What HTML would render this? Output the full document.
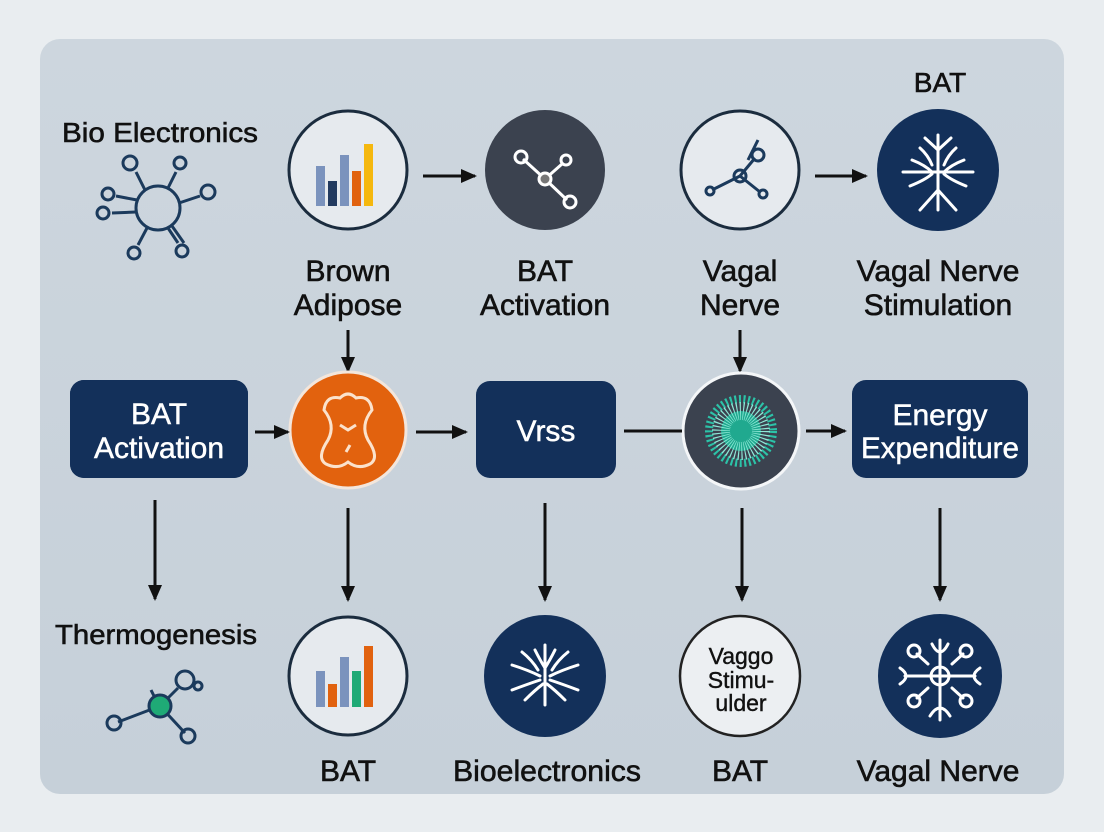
<!DOCTYPE html>
<html><head><meta charset="utf-8"><style>
html,body{margin:0;padding:0;background:#e9edf0;}
svg{display:block;}
text{font-family:"Liberation Sans",Arial,sans-serif;}
</style></head><body>
<svg width="1104" height="832" viewBox="0 0 1104 832" xmlns="http://www.w3.org/2000/svg">
<defs>
<linearGradient id="pg" x1="0" y1="0" x2="0" y2="1"><stop offset="0" stop-color="#cdd6de"/><stop offset="1" stop-color="#c6d0d9"/></linearGradient>
<marker id="ahb" markerWidth="18" markerHeight="14" refX="14" refY="7" orient="auto" markerUnits="userSpaceOnUse"><path d="M0,0 L16,7 L0,14 Z" fill="#111"/></marker>
</defs>
<rect x="0" y="0" width="1104" height="832" fill="#e9edf0"/>
<rect x="40" y="39" width="1024" height="755" rx="20" fill="url(#pg)"/>

<g fill="#111" stroke="#111" stroke-width="0.6" font-size="30" text-anchor="middle">
<text x="160" y="142" font-size="28" textLength="196" lengthAdjust="spacingAndGlyphs">Bio Electronics</text>
<text x="348" y="281">Brown</text><text x="348" y="315">Adipose</text>
<text x="545" y="281">BAT</text><text x="545" y="315">Activation</text>
<text x="740" y="281">Vagal</text><text x="740" y="315">Nerve</text>
<text x="940" y="92" font-size="28">BAT</text>
<text x="938" y="281">Vagal Nerve</text><text x="938" y="315">Stimulation</text>
<text x="156" y="644" font-size="28" textLength="202" lengthAdjust="spacingAndGlyphs">Thermogenesis</text>
<text x="348" y="781">BAT</text>
<text x="547" y="781" textLength="188" lengthAdjust="spacingAndGlyphs">Bioelectronics</text>
<text x="740" y="781">BAT</text>
<text x="938" y="781">Vagal Nerve</text>
</g>

<!-- bio electronics icon -->
<g stroke="#1b3a5c" stroke-width="3" fill="none">
<circle cx="158" cy="208" r="22"/>
<line x1="145" y1="190" x2="136" y2="172"/><circle cx="130" cy="163" r="7"/>
<line x1="168" y1="188" x2="176" y2="172"/><circle cx="180" cy="163" r="6"/>
<line x1="137" y1="200" x2="116" y2="196"/><circle cx="108" cy="194" r="6"/>
<line x1="136" y1="212" x2="112" y2="213"/><circle cx="103" cy="213" r="6"/>
<line x1="179" y1="203" x2="200" y2="196"/><circle cx="208" cy="192" r="7"/>
<line x1="147" y1="228" x2="138" y2="245"/><circle cx="134" cy="253" r="6"/>
<line x1="168" y1="228" x2="178" y2="243"/><circle cx="182" cy="251" r="6"/>
<line x1="172" y1="226" x2="184" y2="243"/>
</g>

<!-- row1 circles -->
<circle cx="348" cy="170" r="59" fill="#e6eaee" stroke="#1b2c3e" stroke-width="3"/>
<rect x="316" y="166" width="9" height="40" fill="#7b93bd"/>
<rect x="328" y="181" width="9" height="25" fill="#223a5f"/>
<rect x="340" y="155" width="9" height="51" fill="#7b93bd"/>
<rect x="352" y="171" width="9" height="35" fill="#e1620f"/>
<rect x="364" y="144" width="9" height="62" fill="#f5b80f"/>

<circle cx="545" cy="170" r="60" fill="#3b424f"/>
<g stroke="#fff" stroke-width="3" fill="none">
<line x1="523" y1="159" x2="545" y2="179"/><line x1="545" y1="179" x2="562" y2="164"/><line x1="545" y1="179" x2="567" y2="200"/>
<circle cx="521" cy="157" r="6"/><circle cx="566" cy="160" r="5"/><circle cx="545" cy="179" r="6" fill="#777"/><circle cx="570" cy="202" r="6"/>
</g>

<circle cx="740" cy="170" r="59" fill="#e6eaee" stroke="#1b2c3e" stroke-width="3"/>
<g stroke="#1b3a5c" stroke-width="3" fill="none">
<line x1="712" y1="190" x2="740" y2="176"/><line x1="740" y1="176" x2="755" y2="158"/><line x1="740" y1="176" x2="760" y2="192"/><line x1="748" y1="160" x2="758" y2="140"/>
<circle cx="740" cy="176" r="6"/><circle cx="758" cy="155" r="6"/><circle cx="763" cy="194" r="4"/><circle cx="710" cy="191" r="4"/>
</g>

<circle cx="938" cy="170" r="61" fill="#13305a"/>
<g stroke="#fff" stroke-width="3" fill="none" stroke-linecap="round">
<path d="M938 135 V210 M938 150 L925 138 M938 150 L951 138 M938 190 L920 210 M938 190 L956 210 M903 172 H973 M912 160 Q925 165 932 172 M964 160 Q951 165 944 172 M910 186 Q925 180 932 174 M966 186 Q951 180 944 174 M920 148 Q928 155 932 165 M956 148 Q948 155 944 165"/>
</g>

<g stroke="#111" stroke-width="3">
<line x1="423" y1="176" x2="475" y2="176" marker-end="url(#ahb)"/>
<line x1="815" y1="176" x2="866" y2="176" marker-end="url(#ahb)"/>
<line x1="348" y1="330" x2="348" y2="371" marker-end="url(#ahb)"/>
<line x1="740" y1="330" x2="740" y2="371" marker-end="url(#ahb)"/>
</g>

<!-- row2 -->
<rect x="70" y="380" width="178" height="98" rx="14" fill="#13305a"/>
<g fill="#fff" stroke="#fff" stroke-width="0.5" text-anchor="middle" font-size="30">
<text x="159" y="424">BAT</text>
<text x="159" y="458">Activation</text>
<text x="546" y="441">Vrss</text>
<text x="940" y="425">Energy</text>
<text x="940" y="458" textLength="158" lengthAdjust="spacingAndGlyphs">Expenditure</text>
</g>

<circle cx="348" cy="430" r="58" fill="#e2620e" stroke="#f3e6dc" stroke-width="3"/>
<path d="M340 398 Q348 390 356 398 Q370 395 372 410 Q360 425 368 440 Q380 458 370 464 Q358 470 348 462 Q338 470 326 464 Q316 458 328 440 Q336 425 324 410 Q326 395 340 398 Z" fill="none" stroke="#fbe2cc" stroke-width="3"/>
<path d="M340 425 L348 430 L356 425 M350 445 L346 452" stroke="#fbe2cc" stroke-width="3" fill="none"/>

<rect x="476" y="381" width="140" height="97" rx="14" fill="#13305a"/>
<g fill="#fff" stroke="#fff" stroke-width="0.5" text-anchor="middle" font-size="30"><text x="546" y="441">Vrss</text></g>

<circle cx="741" cy="431" r="58" fill="#3b424f" stroke="#f4f6f8" stroke-width="3"/>
<circle cx="741" cy="431" r="32" fill="none" stroke="#2cc3a8" stroke-width="8" stroke-dasharray="2 2.5"/>
<circle cx="741" cy="431" r="20" fill="#20a98f"/>
<circle cx="741" cy="431" r="20" fill="none" stroke="#8ee8d7" stroke-width="18" stroke-dasharray="1 2"/>

<rect x="852" y="380" width="176" height="98" rx="14" fill="#13305a"/>
<g fill="#fff" stroke="#fff" stroke-width="0.5" text-anchor="middle" font-size="30">
<text x="940" y="425">Energy</text>
<text x="940" y="458" textLength="158" lengthAdjust="spacingAndGlyphs">Expenditure</text>
</g>
<rect x="70" y="380" width="178" height="98" rx="14" fill="#13305a"/>
<g fill="#fff" stroke="#fff" stroke-width="0.5" text-anchor="middle" font-size="30">
<text x="159" y="424">BAT</text>
<text x="159" y="458">Activation</text>
</g>

<g stroke="#111" stroke-width="3">
<line x1="255" y1="432" x2="288" y2="432" marker-end="url(#ahb)"/>
<line x1="416" y1="432" x2="466" y2="432" marker-end="url(#ahb)"/>
<line x1="624" y1="431" x2="682" y2="431"/>
<line x1="806" y1="431" x2="845" y2="431" marker-end="url(#ahb)"/>
<line x1="155" y1="500" x2="155" y2="599" marker-end="url(#ahb)"/>
<line x1="348" y1="508" x2="348" y2="600" marker-end="url(#ahb)"/>
<line x1="545" y1="503" x2="545" y2="600" marker-end="url(#ahb)"/>
<line x1="742" y1="508" x2="742" y2="600" marker-end="url(#ahb)"/>
<line x1="940" y1="508" x2="940" y2="600" marker-end="url(#ahb)"/>
</g>

<!-- row3 -->
<g stroke="#1b3a5c" stroke-width="3" fill="none">
<line x1="118" y1="722" x2="160" y2="706"/><circle cx="114" cy="723" r="7"/>
<line x1="160" y1="706" x2="185" y2="733"/><circle cx="188" cy="736" r="7"/>
<line x1="160" y1="706" x2="178" y2="688"/><circle cx="185" cy="680" r="9"/><circle cx="198" cy="686" r="4"/>
<line x1="151" y1="690" x2="155" y2="698"/>
</g>
<circle cx="160" cy="706" r="11" fill="#1faa76" stroke="#1b3a5c" stroke-width="3"/>

<circle cx="348" cy="676" r="59" fill="#e6eaee" stroke="#1b2c3e" stroke-width="3"/>
<rect x="316" y="671" width="9" height="36" fill="#7b93bd"/>
<rect x="328" y="684" width="9" height="23" fill="#e1620f"/>
<rect x="340" y="657" width="9" height="50" fill="#7b93bd"/>
<rect x="352" y="671" width="9" height="36" fill="#1faa76"/>
<rect x="364" y="646" width="9" height="61" fill="#e1620f"/>

<circle cx="545" cy="676" r="61" fill="#13305a"/>
<g stroke="#fff" stroke-width="3" fill="none" stroke-linecap="round">
<path d="M545 645 V705 M535 650 Q540 660 545 668 M555 650 Q550 660 545 668 M512 665 Q528 670 540 676 M578 665 Q562 670 550 676 M512 690 Q528 684 540 680 M578 690 Q562 684 550 680 M525 700 Q535 690 543 684 M565 700 Q555 690 547 684 M522 652 Q532 660 538 670 M568 652 Q558 660 552 670"/>
</g>

<circle cx="740" cy="676" r="60" fill="#eceff2" stroke="#222" stroke-width="2.5"/>
<g fill="#111" stroke="#111" stroke-width="0.4" font-size="23" text-anchor="middle">
<text x="741" y="664">Vaggo</text>
<text x="741" y="688">Stimu-</text>
<text x="741" y="711">ulder</text>
</g>

<circle cx="940" cy="676" r="62" fill="#13305a"/>
<g stroke="#fff" stroke-width="3" fill="none" stroke-linecap="round">
<path d="M940 640 V720 M932 644 Q940 660 948 644 M930 716 Q940 700 950 716 M905 676 H975 M900 668 Q912 676 900 684 M980 668 Q968 676 980 684 M928 664 L917 654 M952 664 L963 654 M928 688 L917 698 M952 688 L963 698"/>
<circle cx="940" cy="676" r="9"/><circle cx="914" cy="651" r="6"/><circle cx="966" cy="651" r="6"/><circle cx="914" cy="701" r="6"/><circle cx="966" cy="701" r="6"/>
</g>
</svg>
</body></html>
